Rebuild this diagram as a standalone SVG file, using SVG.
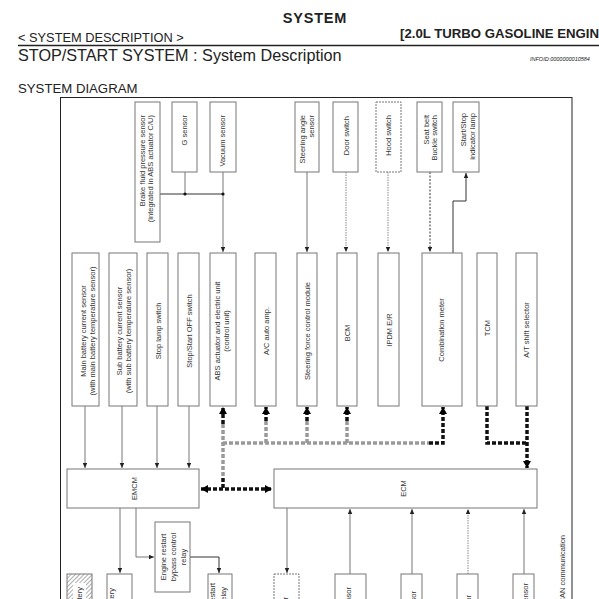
<svg xmlns="http://www.w3.org/2000/svg" width="599" height="599" viewBox="0 0 599 599">
<style>
.hd{font-family:"Liberation Sans",Arial,sans-serif;fill:#222}
.t{font-family:"Liberation Sans",Arial,sans-serif;font-size:7.5px;fill:#333}
.box{fill:#fff;stroke:#777;stroke-width:1}
.dbox{fill:#fff;stroke:#777;stroke-width:1;stroke-dasharray:2 1}
.ln{fill:none;stroke:#777;stroke-width:1}
.lnk{fill:none;stroke:#333;stroke-width:1}
.dot{fill:none;stroke:#888;stroke-width:1;stroke-dasharray:1.5 1}
.dash{fill:none;stroke:#333;stroke-width:1;stroke-dasharray:2 1.5}
.cg{fill:none;stroke:#999;stroke-width:3.5;stroke-dasharray:4 2}
.ck{fill:none;stroke:#111;stroke-width:3.5;stroke-dasharray:4 2}
</style>
<defs>
<marker id="a" markerUnits="userSpaceOnUse" markerWidth="5" markerHeight="5" refX="5" refY="2.25" orient="auto"><path d="M0,0 L5,2.25 L0,4.5 z" fill="#222"/></marker>
<marker id="ca" markerUnits="userSpaceOnUse" markerWidth="7" markerHeight="8" refX="7" refY="4" orient="auto-start-reverse"><path d="M0,0 L7,4 L0,8 z" fill="#000"/></marker>
<pattern id="hatch" patternUnits="userSpaceOnUse" width="3" height="3" patternTransform="rotate(45)"><rect width="3" height="3" fill="#fff"/><line x1="0" y1="0" x2="0" y2="3" stroke="#777" stroke-width="1.2"/></pattern>
</defs>
<rect width="599" height="599" fill="#fff"/>

<g id="header">
<text class="hd" x="315" y="23" font-size="14.5" font-weight="bold" letter-spacing="0.8" text-anchor="middle">SYSTEM</text>
<text class="hd" x="18" y="42" font-size="12.8">&lt; SYSTEM DESCRIPTION &gt;</text>
<text class="hd" x="400" y="38" font-size="13.2" font-weight="bold">[2.0L TURBO GASOLINE ENGINE]</text>
<line x1="18" y1="45.5" x2="599" y2="45.5" stroke="#222" stroke-width="1.3"/>
<text class="hd" x="18" y="61" font-size="16.2">STOP/START SYSTEM : System Description</text>
<text class="hd" x="530" y="60.5" font-size="5.5" font-style="italic" fill="#888">INFOID:0000000010584</text>
<text class="hd" x="18" y="93" font-size="13.2">SYSTEM DIAGRAM</text>
</g>

<rect id="frame" x="60.5" y="97.5" width="511.5" height="520" fill="none" stroke="#222" stroke-width="1"/>

<g id="connectors">
<path class="lnk" d="M160,194 H223"/>
<path class="ln" d="M185,172 V194"/>
<path class="ln" d="M223,172 V252" marker-end="url(#a)"/>
<circle cx="185" cy="194" r="1.6" fill="#111"/>
<circle cx="223" cy="194" r="1.6" fill="#111"/>
<path class="ln" d="M307,172 V252" marker-end="url(#a)"/>
<path class="dot" d="M346,172 V252" marker-end="url(#a)"/>
<path class="dot" d="M388,172 V252" marker-end="url(#a)"/>
<path class="dash" d="M430,172 V252" marker-end="url(#a)"/>
<path class="lnk" d="M453,253 V201 H466 V173" marker-end="url(#a)"/>

<path class="ln" d="M85,406 V468" marker-end="url(#a)"/>
<path class="ln" d="M122,406 V468" marker-end="url(#a)"/>
<path class="ln" d="M157,406 V468" marker-end="url(#a)"/>
<path class="ln" d="M189,406 V468" marker-end="url(#a)"/>

<path class="ck" d="M223,424 V407" marker-end="url(#ca)"/>
<path class="cg" d="M223,424 V478"/>
<path class="ck" d="M223,478 V489"/>
<path class="ck" d="M201,489 H272" marker-start="url(#ca)" marker-end="url(#ca)"/>
<path class="cg" d="M223,443 H429"/>
<path class="ck" d="M429,443 H443 V407" marker-end="url(#ca)"/>
<path class="cg" d="M266,443 V421"/>
<path class="ck" d="M266,421 V407" marker-end="url(#ca)"/>
<path class="cg" d="M307,443 V421"/>
<path class="ck" d="M307,421 V407" marker-end="url(#ca)"/>
<path class="cg" d="M347,443 V421"/>
<path class="ck" d="M347,421 V407" marker-end="url(#ca)"/>
<path class="ck" d="M487,406 V443 H527"/>
<path class="ck" d="M527,406 V468" marker-end="url(#ca)"/>

<path class="ln" d="M120,508 V573" marker-end="url(#a)"/>
<path class="ln" d="M136,508 V557 H154" marker-end="url(#a)"/>
<path class="lnk" d="M190,557 H219 V573" marker-end="url(#a)"/>
<path class="ln" d="M287,508 V573" marker-end="url(#a)"/>
<path class="ln" d="M350,574 V509" marker-end="url(#a)"/>
<path class="ln" d="M412,574 V509" marker-end="url(#a)"/>
<path class="dot" d="M468,574 V509" marker-end="url(#a)"/>
<path class="ln" d="M524,574 V509" marker-end="url(#a)"/>
</g>

<g id="brake-fluid-pressure-sensor"><rect class="box" x="135" y="102" width="25" height="140"/>
<text class="t" text-anchor="end" transform="translate(144.5,115) rotate(-90)">Brake fluid pressure sensor</text>
<text class="t" text-anchor="end" transform="translate(153,115) rotate(-90)">(integrated in ABS actuator C/U)</text></g>
<g id="g-sensor"><rect class="box" x="172" y="102" width="25" height="70"/>
<text class="t" text-anchor="end" transform="translate(187,115) rotate(-90)">G sensor</text></g>
<g id="vacuum-sensor"><rect class="box" x="210" y="102" width="26" height="70"/>
<text class="t" text-anchor="end" transform="translate(225,115) rotate(-90)">Vacuum sensor</text></g>
<g id="steering-angle-sensor"><rect class="box" x="295" y="102" width="24" height="70"/>
<text class="t" text-anchor="end" transform="translate(304.5,115) rotate(-90)">Steering angle</text>
<text class="t" text-anchor="end" transform="translate(313.5,115) rotate(-90)">sensor</text></g>
<g id="door-switch"><rect class="box" x="333" y="102" width="25" height="70"/>
<text class="t" text-anchor="end" transform="translate(348.5,116) rotate(-90)">Door switch</text></g>
<g id="hood-switch"><rect class="dbox" x="376" y="102" width="25" height="70"/>
<text class="t" text-anchor="end" transform="translate(391,115) rotate(-90)">Hood switch</text></g>
<g id="seat-belt-buckle-switch"><rect class="box" x="417" y="102" width="25" height="70"/>
<text class="t" text-anchor="end" transform="translate(428.5,115) rotate(-90)">Seat belt</text>
<text class="t" text-anchor="end" transform="translate(437,115) rotate(-90)">Buckle switch</text></g>
<g id="start-stop-indicator-lamp"><rect class="box" x="453" y="102" width="26" height="70"/>
<text class="t" text-anchor="end" transform="translate(465.5,113) rotate(-90)">Start/Stop</text>
<text class="t" text-anchor="end" transform="translate(474.5,113) rotate(-90)">indicator lamp</text></g>

<g id="main-battery-current-sensor"><rect class="box" x="72" y="253" width="27" height="153"/>
<text class="t" text-anchor="middle" transform="translate(85.5,331) rotate(-90)">Main battery current sensor</text>
<text class="t" text-anchor="middle" transform="translate(94.5,331) rotate(-90)">(with main battery temperature sensor)</text></g>
<g id="sub-battery-current-sensor"><rect class="box" x="109" y="253" width="28" height="153"/>
<text class="t" text-anchor="middle" transform="translate(122,331) rotate(-90)">Sub battery current sensor</text>
<text class="t" text-anchor="middle" transform="translate(131,331) rotate(-90)">(with sub battery temperature sensor)</text></g>
<g id="stop-lamp-switch"><rect class="box" x="147" y="253" width="21" height="153"/>
<text class="t" text-anchor="middle" transform="translate(160.5,331) rotate(-90)">Stop lamp switch</text></g>
<g id="stop-start-off-switch"><rect class="box" x="178" y="253" width="21" height="153"/>
<text class="t" text-anchor="middle" transform="translate(192,331) rotate(-90)">Stop/Start OFF switch</text></g>
<g id="abs-actuator"><rect class="box" x="210" y="253" width="26" height="153"/>
<text class="t" text-anchor="middle" transform="translate(219.5,331) rotate(-90)">ABS actuator and electric unit</text>
<text class="t" text-anchor="middle" transform="translate(228.5,331) rotate(-90)">(control unit)</text></g>
<g id="ac-auto-amp"><rect class="box" x="255" y="253" width="21" height="153"/>
<text class="t" text-anchor="middle" transform="translate(268.5,331) rotate(-90)">A/C auto amp.</text></g>
<g id="steering-force-control-module"><rect class="box" x="297" y="253" width="20" height="153"/>
<text class="t" text-anchor="middle" transform="translate(310,331) rotate(-90)">Steering force control module</text></g>
<g id="bcm"><rect class="box" x="337" y="253" width="20" height="153"/>
<text class="t" text-anchor="middle" transform="translate(349.5,333) rotate(-90)">BCM</text></g>
<g id="ipdm-er"><rect class="box" x="378" y="253" width="21" height="153"/>
<text class="t" text-anchor="middle" transform="translate(391.5,330) rotate(-90)">IPDM E/R</text></g>
<g id="combination-meter"><rect class="box" x="422" y="253" width="40" height="153"/>
<text class="t" text-anchor="middle" transform="translate(444,330) rotate(-90)">Combination meter</text></g>
<g id="tcm"><rect class="box" x="477" y="253" width="20" height="153"/>
<text class="t" text-anchor="middle" transform="translate(490,328) rotate(-90)">TCM</text></g>
<g id="at-shift-selector"><rect class="box" x="516" y="253" width="21" height="153"/>
<text class="t" text-anchor="middle" transform="translate(529,330) rotate(-90)">A/T shift selector</text></g>

<g id="emcm"><rect class="box" x="67" y="469" width="132" height="39"/>
<text class="t" text-anchor="middle" transform="translate(136.5,488.5) rotate(-90)">EMCM</text></g>
<g id="ecm"><rect class="box" x="274" y="469" width="263" height="39"/>
<text class="t" text-anchor="middle" transform="translate(405.5,488.5) rotate(-90)">ECM</text></g>

<g id="engine-restart-bypass-control-relay"><rect class="box" x="155" y="522" width="35" height="70"/>
<text class="t" text-anchor="middle" transform="translate(166,557) rotate(-90)">Engine restart</text>
<text class="t" text-anchor="middle" transform="translate(176,557) rotate(-90)">bypass control</text>
<text class="t" text-anchor="middle" transform="translate(186,557) rotate(-90)">relay</text></g>

<g id="battery"><rect x="67" y="574" width="25" height="40" fill="url(#hatch)" stroke="#777"/>
<rect x="73" y="583" width="13" height="30" fill="#fff"/>
<text class="t" text-anchor="end" transform="translate(82,587) rotate(-90)">Battery</text></g>
<g id="box-b1"><rect class="box" x="107" y="574" width="25" height="40"/>
<text class="t" text-anchor="end" transform="translate(114,588) rotate(-90)">battery</text></g>
<g id="box-b2"><rect class="box" x="208" y="574" width="24" height="40"/>
<text class="t" text-anchor="end" transform="translate(215,583) rotate(-90)">Engine restart</text>
<text class="t" text-anchor="end" transform="translate(225.5,587) rotate(-90)">relay</text></g>
<g id="box-e1"><rect class="dbox" x="274" y="574" width="25" height="40"/>
<text class="t" text-anchor="end" transform="translate(288,597) rotate(-90)">actuator</text></g>
<g id="box-e2"><rect class="box" x="335" y="574" width="31" height="40"/>
<text class="t" text-anchor="end" transform="translate(350.5,587) rotate(-90)">sensor</text></g>
<g id="box-e3"><rect class="box" x="401" y="574" width="21" height="40"/>
<text class="t" text-anchor="end" transform="translate(415.5,591) rotate(-90)">sensor</text></g>
<g id="box-e4"><rect class="box" x="457" y="574" width="21" height="40"/>
<text class="t" text-anchor="end" transform="translate(470.5,595) rotate(-90)">sensor</text></g>
<g id="box-e5"><rect class="box" x="513" y="574" width="21" height="40"/>
<text class="t" text-anchor="end" transform="translate(527.5,583) rotate(-90)">sensor</text></g>

<g id="legend"><text class="t" font-size="8.5" text-anchor="end" transform="translate(564.5,535) rotate(-90)">CAN communication</text></g>
</svg>
